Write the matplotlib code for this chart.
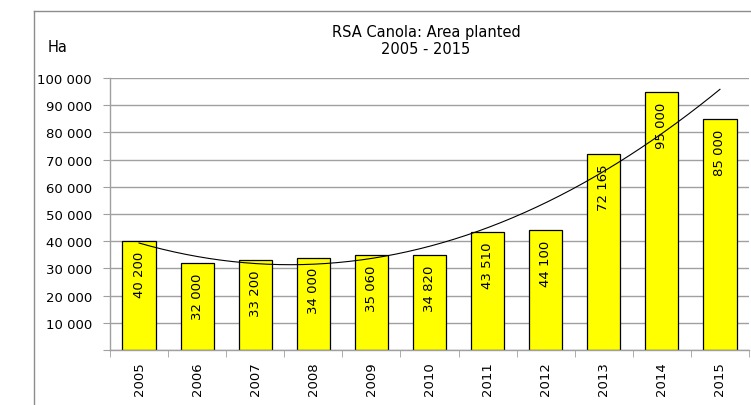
import numpy as np
import matplotlib
matplotlib.use('Agg')
import matplotlib.pyplot as plt
from matplotlib.ticker import FuncFormatter, MultipleLocator
from matplotlib.lines import Line2D

plt.rcParams['font.family'] = ['DejaVu Sans']

years = ['2005', '2006', '2007', '2008', '2009', '2010', '2011', '2012', '2013', '2014', '2015']
area = [40200, 32000, 33200, 34000, 35060, 34820, 43510, 44100, 72165, 95000, 85000]
title = 'RSA Canola: Area planted\n2005 - 2015'


def fmt(v, pos=None):
    return f'{int(round(v)):,}'.replace(',', ' ')


fig = plt.figure(figsize=(7.51, 4.06), dpi=100)
ax = fig.add_axes([110 / 751, 1 - 351 / 406, 639 / 751, 272 / 406])

x = np.arange(len(years))
bars = ax.bar(x, area, width=0.57, color='#ffff00', edgecolor='black', linewidth=0.9, zorder=2)

# polynomial trendline (order 2), like the spreadsheet one
coef = np.polyfit(x, area, 2)
xs = np.linspace(0, len(years) - 1, 200)
ax.plot(xs, np.polyval(coef, xs), color='black', linewidth=0.8, zorder=3)

for xi, v in zip(x, area):
    ax.annotate(fmt(v), (xi, v), xytext=(0, -7), textcoords='offset points',
                rotation=90, ha='center', va='top', fontsize=9.5, zorder=4)

ax.set_xlim(-0.5, len(years) - 0.5)
ax.set_ylim(0, 100000)
ax.yaxis.set_major_locator(MultipleLocator(10000))
ax.yaxis.set_major_formatter(FuncFormatter(lambda v, p: '' if v == 0 else fmt(v)))
ax.grid(axis='y', color='#a0a0a0', linewidth=1, zorder=0)
ax.set_axisbelow(True)

ax.set_xticks(x)
ax.set_xticklabels(years, rotation=90, fontsize=9.5)
ax.set_xticks(np.arange(-0.5, len(years)), minor=True)
ax.tick_params(axis='x', which='major', length=0, pad=8)
ax.tick_params(axis='x', which='minor', length=5, color='#a0a0a0', direction='out')
ax.tick_params(axis='y', length=5, color='#a0a0a0', labelsize=9.5, pad=8)

for s in ['top', 'right']:
    ax.spines[s].set_visible(False)
for s in ['left', 'bottom']:
    ax.spines[s].set_color('#a0a0a0')
    ax.spines[s].set_linewidth(1)

fig.text(426 / 751, 1 - 41 / 406, title, ha='center', va='center', fontsize=10.5, linespacing=1.15)
fig.text(48 / 751, 1 - 47 / 406, 'Ha', ha='left', va='center', fontsize=10.5)

# outer chart frame (clipped by the image edge)
fig.add_artist(Line2D([33.5 / 751, 33.5 / 751], [0, 1 - 11.5 / 406], color='#8c8c8c', linewidth=1))
fig.add_artist(Line2D([33.5 / 751, 1], [1 - 11.5 / 406, 1 - 11.5 / 406], color='#8c8c8c', linewidth=1))

fig.savefig('out.png', dpi=100, facecolor='white')
